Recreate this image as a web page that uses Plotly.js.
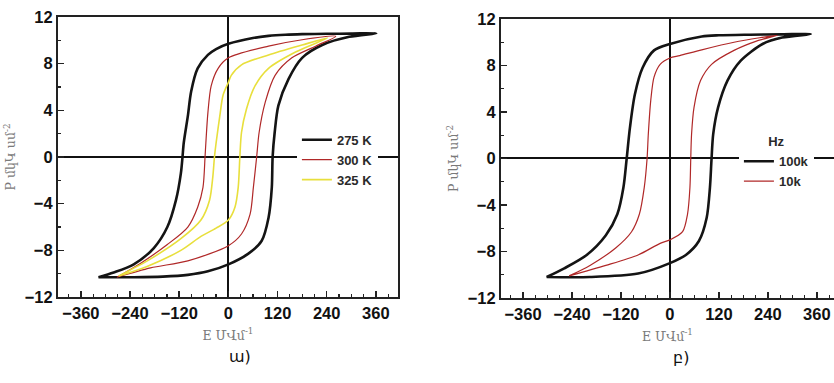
<!DOCTYPE html>
<html>
<head>
<meta charset="utf-8">
<script src="https://cdn.plot.ly/plotly-3.0.1.min.js"></script>
<style>html,body{margin:0;padding:0;background:#fff;}#chart{width:834px;height:383px;}</style>
</head>
<body>
<div id="chart"></div>
<script>
// ---------- Panel (a): temperature ----------
const e275Up = [361, 300, 240, 180, 139, 98, 60, 0, -30, -50, -75, -91, -99, -109, -112, -116, -128, -149, -182, -231, -280, -317];
const p275Up = [10.6, 10.58, 10.56, 10.53, 10.48, 10.38, 10.2, 9.7, 9.25, 8.75, 7.6, 5.6, 3.5, 1.2, 0, -1.4, -3.7, -6.0, -7.8, -9.2, -9.9, -10.3];
const e275Dn = [-317, -231, -160, -99, -50, 0, 48, 81, 98, 106, 108, 113, 122, 147, 180, 229, 295, 361];
const p275Dn = [-10.3, -10.3, -10.25, -10.1, -9.8, -9.2, -8.3, -7.2, -5.2, -2.6, 0, 2.1, 4.4, 6.7, 8.5, 9.6, 10.3, 10.6];

const e300Up = [262, 180, 98, 0, -25, -42, -50, -55, -57, -62, -75, -99, -149, -214, -272];
const p300Up = [10.35, 10.05, 9.5, 8.5, 7.6, 6.1, 3.8, 1.2, 0, -2.6, -4.3, -6.0, -7.5, -9.1, -10.3];
const e300Dn = [-272, -190, -99, 0, 32, 53, 61, 69, 75, 90, 114, 155, 213, 262];
const p300Dn = [-10.3, -9.5, -8.9, -7.6, -6.6, -4.9, -2.6, 0, 2.1, 4.7, 7.0, 8.5, 9.5, 10.35];

const e325Up = [242, 180, 98, 32, 7, 0, -13, -21, -30, -34, -38, -46, -67, -116, -198, -268];
const p325Up = [10.2, 9.6, 8.75, 7.9, 7.0, 6.4, 5.3, 3.5, 1.2, 0, -1.7, -3.7, -5.4, -7.0, -8.9, -10.2];
const e325Dn = [-268, -200, -116, -67, -30, 0, 16, 24, 28, 32, 44, 65, 98, 164, 242];
const p325Dn = [-10.2, -9.4, -8.0, -6.8, -6.1, -5.4, -4.3, -2.6, 0, 2.1, 4.1, 6.1, 7.6, 9.0, 10.2];

// ---------- Panel (b): frequency ----------
const e100kUp = [345, 275, 196, 120, 78, 0, -39, -67, -86, -98, -106, -114, -129, -157, -204, -259, -302];
const p100kUp = [10.7, 10.68, 10.65, 10.6, 10.5, 9.85, 9.3, 7.8, 5.5, 2.65, 0, -2.5, -4.8, -6.6, -8.3, -9.45, -10.2];
const e100kDn = [-302, -196, -78, 0, 39, 71, 90, 98, 102, 106, 118, 141, 173, 227, 275, 345];
const p100kDn = [-10.2, -10.2, -9.9, -9.0, -8.3, -7.1, -5.1, -2.5, 0, 2.1, 4.4, 6.7, 8.4, 9.85, 10.4, 10.7];

const e10kUp = [263, 157, 78, 24, 0, -24, -39, -47, -53, -56, -63, -75, -94, -133, -196, -247];
const p10kUp = [10.6, 10.0, 9.35, 8.85, 8.65, 8.1, 7.0, 5.0, 2.1, 0, -2.5, -4.8, -6.3, -7.7, -9.2, -10.1];
const e10kDn = [-247, -157, -78, -24, 0, 31, 43, 49, 51, 53, 59, 75, 102, 157, 212, 263];
const p10kDn = [-10.1, -9.2, -8.3, -7.3, -7.0, -6.3, -4.8, -2.5, 0, 2.1, 4.4, 6.7, 8.1, 9.3, 10.1, 10.6];

const seriesNamesA = ['275 K', '300 K', '325 K'];
const seriesNamesB = ['100k', '10k'];
const legendTitleB = 'Hz';
const xTitle = 'E ՄՎմ<sup>-1</sup>';
const yTitle = 'P մկԿ սմ<sup>-2</sup>';
const panelLabels = ['ա)', 'բ)'];

function loop(eu, pu, ed, pd) { return { x: eu.concat(ed), y: pu.concat(pd) }; }

const la = loop(e275Up, p275Up, e275Dn, p275Dn);
const lb = loop(e300Up, p300Up, e300Dn, p300Dn);
const lc = loop(e325Up, p325Up, e325Dn, p325Dn);
const ld = loop(e100kUp, p100kUp, e100kDn, p100kDn);
const le = loop(e10kUp, p10kUp, e10kDn, p10kDn);

function tr(l, name, color, width, xa, ya, leg) {
  return { x: l.x, y: l.y, name: name, type: 'scatter', mode: 'lines',
    line: { color: color, width: width, shape: 'spline', smoothing: 0.8 },
    xaxis: xa, yaxis: ya, legend: leg };
}

const data = [
  tr(la, seriesNamesA[0], '#141414', 2.6, 'x', 'y', 'legend'),
  tr(lb, seriesNamesA[1], '#b02828', 1.2, 'x', 'y', 'legend'),
  tr(lc, seriesNamesA[2], '#e8df3c', 1.6, 'x', 'y', 'legend'),
  tr(ld, seriesNamesB[0], '#141414', 2.6, 'x2', 'y2', 'legend2'),
  tr(le, seriesNamesB[1], '#b02828', 1.2, 'x2', 'y2', 'legend2')
];

const tickFont = { family: 'Liberation Sans, Arial, sans-serif', size: 16.5, color: '#111', weight: 700 };
const titleFont = { family: 'DejaVu Serif, serif', size: 12.5, color: '#7a7a7a' };

function xax(domain, range, anchor) {
  return {
    domain: domain, range: range, anchor: anchor,
    tick0: 0, dtick: 120, ticks: 'inside', ticklen: 6, tickwidth: 1.5, tickcolor: '#222',
    minor: { dtick: 30, ticks: 'inside', ticklen: 3, tickwidth: 1.2, tickcolor: '#222', showgrid: false },
    showline: true, linewidth: 2, linecolor: '#222', mirror: true,
    showgrid: false, zeroline: true, zerolinecolor: '#111', zerolinewidth: 2,
    tickfont: tickFont, ticklabeloverflow: 'allow',
    title: { text: xTitle, font: titleFont, standoff: 10 }
  };
}
function yax(domain, anchor) {
  return {
    domain: domain, range: [-12, 12], anchor: anchor,
    tick0: 0, dtick: 4, ticks: 'inside', ticklen: 6, tickwidth: 1.5, tickcolor: '#222',
    minor: { dtick: 2, ticks: 'inside', ticklen: 3, tickwidth: 1.2, tickcolor: '#222', showgrid: false },
    showline: true, linewidth: 2, linecolor: '#222', mirror: true,
    showgrid: false, zeroline: true, zerolinecolor: '#111', zerolinewidth: 2,
    tickfont: tickFont, ticklabeloverflow: 'allow',
    title: { text: yTitle, font: titleFont, standoff: 6 }
  };
}

const legFont = { family: 'Liberation Sans, Arial, sans-serif', size: 13, color: '#2a2a2a', weight: 700 };

const layout = {
  width: 834, height: 383,
  margin: { l: 0, r: 0, t: 0, b: 0 },
  paper_bgcolor: '#fff', plot_bgcolor: '#fff',
  showlegend: true,
  xaxis: xax([0.0695, 0.4772], [-416, 414], 'y'),
  yaxis: yax([0.2245, 0.9556], 'x'),
  xaxis2: xax([0.6007, 1.0], [-414, 402], 'y2'),
  yaxis2: yax([0.222, 0.9504], 'x2'),
  legend: { x: 0.356, y: 0.674, xanchor: 'left', yanchor: 'top', bgcolor: '#fff',
    borderwidth: 0, font: legFont, tracegroupgap: 0, itemwidth: 30 },
  legend2: { x: 0.886, y: 0.662, xanchor: 'left', yanchor: 'top', bgcolor: '#fff',
    borderwidth: 0, font: legFont, itemwidth: 30,
    title: { text: legendTitleB, font: legFont, side: 'top center' } },
  annotations: [
    { text: panelLabels[0], xref: 'paper', yref: 'paper', x: 0.272, y: 0.068, yanchor: 'middle', showarrow: false,
      font: { family: 'DejaVu Sans, sans-serif', size: 16, color: '#111' } },
    { text: panelLabels[1], xref: 'paper', yref: 'paper', x: 0.829, y: 0.066, yanchor: 'middle', showarrow: false,
      font: { family: 'DejaVu Sans, sans-serif', size: 16, color: '#111' } }
  ]
};

Plotly.newPlot('chart', data, layout, { displayModeBar: false, staticPlot: true });
</script>
</body>
</html>
